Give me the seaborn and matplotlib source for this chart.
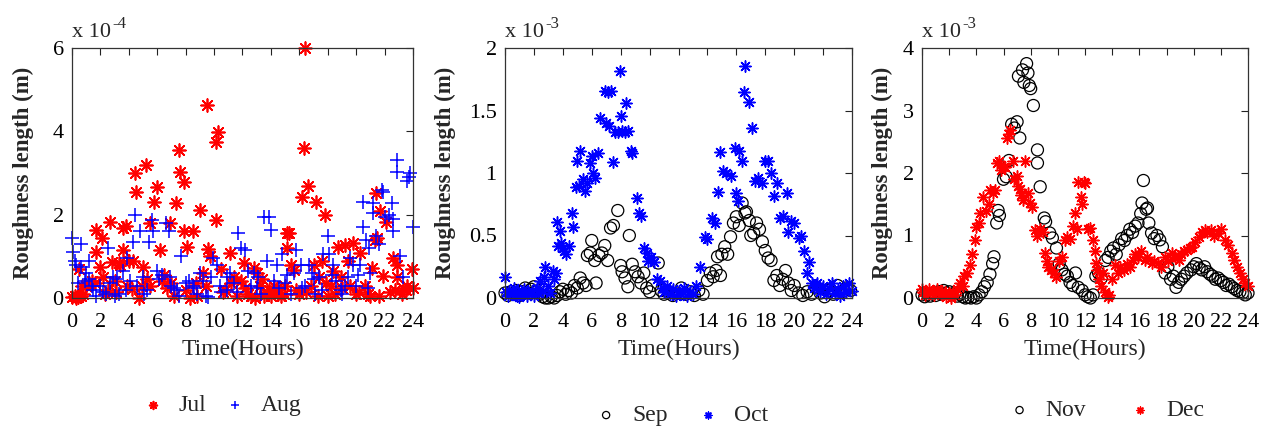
import numpy as np
import pandas as pd
import matplotlib
matplotlib.use("Agg")
import matplotlib.pyplot as plt
from matplotlib.ticker import FuncFormatter
import seaborn as sns

# ---------------------------------------------------------------------------
# Roughness length samples over the day (values in units of the axis scale)
# ---------------------------------------------------------------------------

# July / August, scale 1e-4 m
jul_hours = [0.0, 0.2, 0.4, 0.5, 0.6, 0.8, 1.0, 1.2, 1.4, 1.7, 1.7, 2.0, 2.1, 2.3, 2.5, 2.7, 2.8, 3.0,
             3.3, 3.4, 3.6, 3.6, 3.8, 4.0, 4.2, 4.3, 4.4, 4.5, 4.9, 5.0, 5.2, 5.5, 5.5, 5.8, 6.0, 6.2,
             6.3, 6.7, 6.9, 7.0, 7.3, 7.5, 7.6, 7.9, 7.9, 8.1, 8.3, 8.5, 8.7, 9.0, 9.2, 9.5, 9.6, 9.7,
             10.1, 10.1, 10.3, 10.5, 10.8, 11.1, 11.4, 11.6, 11.9, 12.1, 12.4, 12.6, 12.8, 13.0, 13.2,
             13.5, 13.7, 13.9, 14.2, 14.5, 14.7, 15.0, 15.1, 15.1, 15.3, 15.4, 15.6, 15.8, 16.0, 16.2,
             16.3, 16.4, 16.6, 16.8, 17.0, 17.2, 17.4, 17.6, 17.8, 18.0, 18.2, 18.4, 18.7, 18.9, 19.2,
             19.4, 19.6, 19.8, 20.0, 20.3, 20.6, 21.0, 21.1, 21.3, 21.4, 21.5, 21.7, 21.9, 22.1, 22.4,
             22.6, 22.9, 22.9, 23.2, 23.5, 23.6, 23.9, 24.0,
             0.3, 0.7, 1.6, 2.2, 3.1, 3.9, 4.7, 5.3, 6.5, 7.2, 8.0, 8.8, 9.4, 10.6, 11.2, 12.2, 12.9,
             13.4, 14.0, 14.4, 14.9, 16.5, 17.3, 17.9, 18.5, 19.0, 20.2, 20.8, 21.6, 22.7, 23.3]
jul_z0 = [0.03, 0.05, 0.02, 0.70, 0.05, 0.10, 0.30, 0.35, 0.40, 1.63, 1.10, 0.75, 1.44, 0.10, 0.20, 1.83,
          0.87, 0.40, 0.85, 0.80, 1.69, 1.15, 1.72, 0.90, 0.22, 0.90, 3.00, 2.55, 0.30, 0.75, 3.19, 0.30,
          1.80, 2.31, 2.67, 1.15, 0.40, 0.25, 1.80, 0.35, 2.27, 3.55, 3.03, 2.78, 1.60, 1.23, 0.00, 1.60,
          0.35, 2.11, 0.60, 4.63, 1.17, 1.00, 1.87, 3.75, 3.98, 0.70, 0.20, 1.07, 0.50, 0.05, 0.40, 0.85,
          0.10, 0.05, 0.72, 0.60, 0.30, 0.05, 0.15, 0.20, 0.30, 0.10, 0.05, 0.30, 1.57, 1.20, 1.55, 0.80,
          0.68, 0.20, 0.10, 2.43, 3.60, 6.00, 2.70, 0.30, 0.80, 2.31, 0.50, 0.90, 1.99, 0.05, 0.30, 0.65,
          1.23, 0.50, 1.27, 0.90, 0.30, 1.31, 0.10, 1.07, 0.30, 0.05, 0.72, 1.39, 2.51, 1.45, 2.10, 0.52,
          1.83, 0.15, 0.95, 0.80, 0.50, 0.10, 0.20, 0.30, 0.70, 0.25,
          0.00, 0.30, 0.35, 0.50, 0.15, 0.30, 0.00, 0.45, 0.55, 0.05, 0.20, 0.05, 0.30, 0.15, 0.35, 0.25,
          0.00, 0.45, 0.05, 0.25, 0.10, 0.15, 0.05, 0.35, 0.10, 0.25, 0.15, 0.10, 0.05, 0.20, 0.25]

aug_hours = [0.0, 0.1, 0.2, 0.3, 0.6, 0.6, 0.9, 1.2, 1.2, 1.4, 1.7, 2.0, 2.2, 2.5, 2.7, 2.9, 3.0, 3.3,
             3.6, 3.9, 4.1, 4.3, 4.4, 4.8, 5.0, 5.1, 5.4, 5.6, 5.7, 6.0, 6.3, 6.6, 6.8, 7.0, 7.2, 7.5,
             7.7, 8.2, 8.5, 8.8, 9.0, 9.4, 9.6, 9.9, 10.2, 10.5, 10.9, 10.9, 11.4, 11.7, 11.9, 12.2,
             12.4, 12.8, 13.1, 13.3, 13.5, 13.7, 13.9, 14.0, 14.4, 14.8, 15.1, 15.4, 15.8, 16.1, 16.4,
             16.7, 17.0, 17.1, 17.4, 17.7, 18.0, 18.1, 18.4, 18.6, 18.9, 19.2, 19.6, 19.8, 20.0, 20.3,
             20.5, 20.5, 20.7, 20.9, 21.2, 21.2, 21.4, 21.6, 21.8, 21.9, 22.0, 22.3, 22.5, 22.6, 22.6,
             22.9, 22.9, 23.1, 23.3, 23.6, 23.7, 23.8, 24.0,
             0.4, 1.0, 1.5, 2.4, 3.2, 3.8, 4.6, 5.3, 6.1, 6.9, 7.4, 8.0, 8.6, 9.2, 9.8, 10.4, 11.1,
             11.6, 12.6, 13.0, 14.2, 14.6, 15.0, 15.6, 16.2, 16.9, 17.6, 18.3, 19.0, 19.4, 20.1, 20.8,
             21.0]
aug_z0 = [1.43, 1.10, 0.90, 0.80, 1.30, 0.75, 0.40, 0.90, 0.45, 0.30, 0.05, 0.30, 0.15, 1.20, 0.35, 0.50,
          0.05, 0.10, 0.65, 0.95, 0.40, 1.35, 2.00, 1.60, 0.50, 0.10, 1.35, 1.87, 1.60, 0.65, 0.55, 1.80,
          1.60, 0.30, 0.25, 0.05, 1.00, 0.40, 0.30, 0.10, 0.60, 0.05, 0.02, 0.95, 0.80, 0.15, 0.50, 0.20,
          0.35, 1.55, 1.20, 1.15, 0.65, 0.60, 0.50, 0.10, 1.95, 0.90, 1.95, 1.63, 0.80, 1.05, 0.55, 0.10,
          1.15, 0.80, 0.30, 0.80, 0.45, 0.10, 0.50, 1.05, 1.50, 1.05, 0.80, 0.40, 0.20, 0.30, 0.95, 0.80,
          0.30, 0.80, 1.70, 2.30, 1.40, 1.20, 2.03, 2.27, 1.50, 1.30, 2.60, 2.55, 1.95, 2.00, 2.27, 1.90,
          1.60, 3.31, 3.03, 1.00, 0.50, 2.80, 2.90, 3.00, 1.70,
          0.35, 0.60, 0.20, 0.10, 0.45, 0.20, 0.30, 0.20, 0.45, 0.50, 0.20, 0.35, 0.25, 0.40, 0.50, 0.30,
          0.60, 0.15, 0.30, 0.25, 0.40, 0.25, 0.35, 0.60, 0.25, 0.60, 0.20, 0.55, 0.10, 0.50, 0.55, 0.25,
          0.60]

# September / October, scale 1e-3 m
sep_hours = [0.0, 0.2, 0.4, 0.6, 0.8, 1.0, 1.2, 1.4, 1.6, 1.8, 2.0, 2.2, 2.4, 2.6, 2.8, 3.0, 3.2, 3.4,
             3.6, 3.8, 4.0, 4.2, 4.4, 4.6, 4.8, 5.0, 5.2, 5.4, 5.6, 5.7, 5.9, 6.0, 6.2, 6.3, 6.5, 6.7,
             6.9, 7.1, 7.3, 7.5, 7.8, 8.0, 8.1, 8.3, 8.5, 8.6, 8.8, 9.0, 9.2, 9.4, 9.6, 9.8, 10.0, 10.2,
             10.6, 10.8, 11.0, 11.3, 11.6, 11.9, 12.2, 12.5, 12.8, 13.1, 13.4, 13.7, 14.0, 14.2, 14.4,
             14.6, 14.7, 14.9, 15.0, 15.2, 15.4, 15.6, 15.8, 16.0, 16.2, 16.4, 16.6, 16.7, 16.9, 17.0,
             17.2, 17.4, 17.6, 17.8, 18.0, 18.2, 18.4, 18.6, 18.8, 19.0, 19.2, 19.4, 19.6, 19.8, 20.0,
             20.3, 20.6, 20.9, 21.2, 21.5, 21.8, 22.1, 22.4, 22.7, 23.0, 23.3, 23.6, 23.9]
sep_z0 = [0.04, 0.02, 0.05, 0.03, 0.06, 0.02, 0.05, 0.08, 0.04, 0.07, 0.09, 0.05, 0.03, 0.01, 0.00, 0.00,
          0.01, 0.00, 0.02, 0.05, 0.07, 0.03, 0.06, 0.04, 0.10, 0.08, 0.16, 0.12, 0.10, 0.34, 0.36, 0.46,
          0.30, 0.12, 0.34, 0.36, 0.42, 0.30, 0.56, 0.58, 0.70, 0.26, 0.21, 0.16, 0.09, 0.50, 0.27, 0.21,
          0.17, 0.12, 0.20, 0.08, 0.05, 0.10, 0.28, 0.06, 0.03, 0.05, 0.02, 0.04, 0.08, 0.03, 0.05, 0.02,
          0.06, 0.03, 0.14, 0.20, 0.17, 0.22, 0.33, 0.18, 0.35, 0.41, 0.35, 0.49, 0.60, 0.65, 0.58, 0.76,
          0.68, 0.69, 0.62, 0.50, 0.52, 0.60, 0.55, 0.45, 0.38, 0.32, 0.30, 0.14, 0.18, 0.10, 0.15, 0.22,
          0.12, 0.06, 0.10, 0.04, 0.02, 0.05, 0.03, 0.08, 0.04, 0.01, 0.06, 0.03, 0.10, 0.05, 0.08, 0.06]

oct_hours = [0.0, 0.1, 0.2, 0.3, 0.5, 0.6, 0.8, 0.9, 1.0, 1.2, 1.3, 1.5, 1.6, 1.8, 1.9, 2.0, 2.2, 2.3,
             2.4, 2.6, 2.7, 2.8, 3.0, 3.1, 3.3, 3.4, 3.5, 3.6, 3.7, 3.8, 3.9, 4.0, 4.1, 4.2, 4.4, 4.6,
             4.7, 4.9, 5.0, 5.1, 5.2, 5.4, 5.5, 5.7, 5.9, 6.0, 6.1, 6.2, 6.4, 6.6, 6.9, 7.0, 7.1, 7.2,
             7.3, 7.5, 7.6, 7.8, 7.95, 8.0, 8.1, 8.3, 8.4, 8.5, 8.7, 8.8, 9.1, 9.3, 9.4, 9.6, 9.8, 9.9,
             10.1, 10.3, 10.5, 10.7, 10.9, 11.0, 11.2, 11.4, 11.6, 11.8, 12.0, 12.2, 12.4, 12.6, 12.8,
             13.0, 13.2, 13.5, 13.8, 14.0, 14.3, 14.5, 14.7, 14.9, 15.1, 15.3, 15.6, 15.9, 16.0, 16.1,
             16.2, 16.4, 16.5, 16.6, 16.9, 17.1, 17.3, 17.5, 17.8, 18.0, 18.2, 18.4, 18.6, 18.8, 19.0,
             19.2, 19.5, 19.6, 19.8, 20.0, 20.3, 20.5, 20.7, 20.9, 21.0, 21.2, 21.4, 21.6, 21.8, 22.0,
             22.2, 22.4, 22.6, 22.8, 23.0, 23.2, 23.4, 23.6, 23.8, 24.0]
oct_z0 = [0.17, 0.05, 0.02, 0.06, 0.03, 0.08, 0.02, 0.05, 0.01, 0.04, 0.07, 0.02, 0.05, 0.03, 0.06, 0.02,
          0.08, 0.04, 0.14, 0.06, 0.17, 0.25, 0.10, 0.04, 0.22, 0.15, 0.20, 0.61, 0.42, 0.54, 0.44, 0.40,
          0.38, 0.35, 0.42, 0.68, 0.57, 0.89, 1.10, 0.90, 1.18, 0.95, 0.86, 0.92, 1.08, 1.14, 1.00, 0.96,
          1.16, 1.44, 1.66, 1.40, 1.65, 1.38, 1.66, 1.09, 1.33, 1.33, 1.82, 1.46, 1.34, 1.33, 1.56, 1.34,
          1.18, 1.16, 0.80, 0.68, 0.66, 0.40, 0.36, 0.30, 0.33, 0.29, 0.15, 0.14, 0.08, 0.05, 0.10, 0.03,
          0.07, 0.02, 0.06, 0.03, 0.08, 0.02, 0.05, 0.03, 0.10, 0.25, 0.49, 0.47, 0.64, 0.60, 0.85, 1.17,
          1.02, 1.00, 0.98, 1.20, 0.84, 0.78, 1.18, 1.10, 1.65, 1.86, 1.57, 1.36, 0.94, 0.96, 0.92, 1.10,
          1.10, 1.00, 0.82, 0.92, 0.64, 0.66, 0.84, 0.53, 0.62, 0.60, 0.48, 0.50, 0.38, 0.20, 0.29, 0.12,
          0.08, 0.12, 0.05, 0.10, 0.03, 0.08, 0.12, 0.04, 0.07, 0.02, 0.10, 0.05, 0.12, 0.06]

# November / December, scale 1e-3 m
nov_hours = [0.0, 0.2, 0.4, 0.6, 0.8, 1.0, 1.2, 1.4, 1.6, 1.8, 2.0, 2.2, 2.4, 2.6, 2.8, 3.0, 3.2, 3.4,
             3.6, 3.8, 4.0, 4.2, 4.4, 4.6, 4.8, 5.0, 5.2, 5.3, 5.5, 5.6, 5.7, 6.0, 6.2, 6.4, 6.6, 6.8,
             7.0, 7.1, 7.2, 7.4, 7.5, 7.7, 7.8, 7.9, 8.0, 8.2, 8.5, 8.5, 8.7, 9.0, 9.1, 9.4, 9.6, 9.9,
             10.1, 10.3, 10.5, 10.7, 10.9, 11.1, 11.3, 11.5, 11.8, 12.0, 12.2, 12.4, 12.6, 12.8, 13.0,
             13.2, 13.5, 13.7, 13.9, 14.1, 14.3, 14.5, 14.7, 14.9, 15.1, 15.3, 15.5, 15.7, 15.9, 16.1,
             16.2, 16.3, 16.5, 16.6, 16.7, 16.9, 17.1, 17.3, 17.5, 17.7, 17.9, 18.1, 18.3, 18.5, 18.7,
             18.9, 19.1, 19.3, 19.5, 19.8, 20.0, 20.2, 20.4, 20.6, 20.8, 21.0, 21.2, 21.4, 21.6, 21.8,
             22.0, 22.2, 22.4, 22.6, 22.8, 23.0, 23.2, 23.4, 23.6, 23.8, 24.0]
nov_z0 = [0.05, 0.02, 0.06, 0.03, 0.08, 0.04, 0.10, 0.06, 0.12, 0.08, 0.10, 0.05, 0.08, 0.03, 0.06, 0.02,
          0.00, 0.01, 0.00, 0.02, 0.00, 0.05, 0.10, 0.18, 0.25, 0.38, 0.55, 0.66, 1.20, 1.40, 1.32, 1.90,
          1.94, 2.20, 2.78, 2.72, 2.82, 3.55, 2.56, 3.65, 3.45, 3.75, 3.60, 3.40, 3.35, 3.08, 2.37, 2.16,
          1.78, 1.28, 1.22, 1.04, 0.96, 0.80, 0.55, 0.45, 0.38, 0.35, 0.25, 0.20, 0.40, 0.17, 0.12, 0.05,
          0.02, 0.00, 0.05, 0.35, 0.40, 0.32, 0.60, 0.65, 0.75, 0.80, 0.70, 0.85, 0.95, 0.92, 1.00, 1.10,
          1.05, 1.15, 1.20, 1.35, 1.52, 1.88, 1.42, 1.44, 1.20, 1.04, 0.95, 1.00, 0.93, 0.82, 0.40, 0.50,
          0.30, 0.35, 0.17, 0.25, 0.30, 0.35, 0.40, 0.45, 0.50, 0.55, 0.48, 0.45, 0.50, 0.42, 0.38, 0.35,
          0.30, 0.32, 0.28, 0.25, 0.20, 0.22, 0.18, 0.15, 0.12, 0.10, 0.08, 0.05, 0.08]

dec_hours = [0.0, 0.1, 0.2, 0.3, 0.5, 0.6, 0.8, 0.9, 1.1, 1.2, 1.4, 1.5, 1.7, 1.8, 2.0, 2.1, 2.3, 2.4,
             2.6, 2.8, 3.0, 3.1, 3.3, 3.5, 3.7, 3.9, 4.0, 4.2, 4.3, 4.5, 4.7, 4.9, 5.0, 5.2, 5.4, 5.5,
             5.7, 5.8, 6.0, 6.1, 6.25, 6.4, 6.5, 6.7, 6.8, 7.0, 7.1, 7.2, 7.3, 7.45, 7.6, 7.8, 7.95,
             8.1, 8.3, 8.5, 8.7, 8.9, 9.05, 9.2, 9.3, 9.5, 9.7, 9.9, 10.1, 10.3, 10.5, 10.7, 10.9, 11.1,
             11.3, 11.4, 11.5, 11.7, 11.8, 11.9, 12.0, 12.2, 12.4, 12.6, 12.7, 12.8, 12.9, 13.0, 13.2,
             13.3, 13.5, 13.7, 13.8, 14.0, 14.2, 14.4, 14.6, 14.9, 15.1, 15.3, 15.5, 15.7, 15.9, 16.1,
             16.4, 16.6, 16.9, 17.1, 17.4, 17.6, 17.9, 18.1, 18.4, 18.6, 18.9, 19.1, 19.3, 19.5, 19.7,
             19.9, 20.1, 20.4, 20.6, 20.8, 21.0, 21.3, 21.5, 21.8, 22.0, 22.3, 22.5, 22.8, 23.0, 23.2,
             23.4, 23.6, 23.8, 24.0]
dec_z0 = [0.15, 0.10, 0.05, 0.12, 0.15, 0.08, 0.12, 0.05, 0.14, 0.10, 0.06, 0.12, 0.10, 0.02, 0.08, 0.00,
          0.10, 0.05, 0.15, 0.24, 0.20, 0.35, 0.40, 0.53, 0.70, 0.93, 1.14, 1.20, 1.36, 1.62, 1.40, 1.50,
          1.73, 1.68, 1.73, 2.16, 2.20, 2.05, 2.10, 2.10, 2.56, 2.62, 2.69, 2.20, 1.90, 1.95, 1.80, 1.75,
          1.65, 1.57, 2.20, 1.68, 1.52, 1.45, 1.09, 1.00, 1.10, 1.05, 0.72, 0.60, 0.50, 0.45, 0.40, 0.34,
          0.60, 0.66, 0.93, 0.98, 0.95, 1.15, 1.36, 1.10, 1.85, 1.62, 1.50, 1.85, 1.84, 1.10, 1.12, 0.93,
          0.75, 0.56, 0.45, 0.30, 0.20, 0.40, 0.10, 0.02, 0.05, 0.30, 0.53, 0.40, 0.50, 0.45, 0.55, 0.50,
          0.61, 0.70, 0.66, 0.75, 0.61, 0.65, 0.56, 0.60, 0.56, 0.50, 0.66, 0.60, 0.72, 0.65, 0.61, 0.70,
          0.75, 0.77, 0.80, 0.82, 0.90, 0.98, 1.05, 1.09, 1.05, 1.09, 1.00, 1.04, 1.10, 0.93, 0.85, 0.72,
          0.61, 0.50, 0.40, 0.30, 0.24, 0.20]

hour_ticks = list(range(0, 25, 2))

sns.set_theme(style="white")
plt.rcParams["font.family"] = ["Liberation Serif", "DejaVu Serif"]

ASTERISK = (8, 2, 0)

fig = plt.figure(figsize=(12.68, 4.32), dpi=100)
W, H = 1268.0, 432.0


def make_axes(left_px, right_px, top_px=48, bottom_px=298):
    return fig.add_axes([left_px / W, 1 - bottom_px / H,
                         (right_px - left_px) / W, (bottom_px - top_px) / H])


ax1 = make_axes(72, 413)
ax2 = make_axes(505, 852)
ax3 = make_axes(922, 1248)

# Panel 1: July and August
sns.scatterplot(x=jul_hours, y=jul_z0, ax=ax1, marker=ASTERISK, color="red",
                s=85, linewidth=1.25, clip_on=False, label="Jul")
sns.scatterplot(x=aug_hours, y=aug_z0, ax=ax1, marker="+", color="blue",
                s=110, linewidth=1.1, clip_on=False, label="Aug")

# Panel 2: September and October
sns.scatterplot(x=sep_hours, y=sep_z0, ax=ax2, marker="o", facecolor="none",
                edgecolor="black", s=75, linewidth=0.9, clip_on=False, label="Sep")
sns.scatterplot(x=oct_hours, y=oct_z0, ax=ax2, marker=ASTERISK, color="blue",
                s=65, linewidth=1.1, clip_on=False, label="Oct")

# Panel 3: November and December
sns.scatterplot(x=nov_hours, y=nov_z0, ax=ax3, marker="o", facecolor="none",
                edgecolor="black", s=75, linewidth=0.9, clip_on=False, label="Nov")
sns.scatterplot(x=dec_hours, y=dec_z0, ax=ax3, marker=ASTERISK, color="red",
                s=65, linewidth=1.1, clip_on=False, label="Dec")

# axis, y limit, y ticks, scale exponent, y-label x position, legend anchor, column gap
panels = [
    (ax1, 6, [0, 2, 4, 6], "-4", -0.112, (0.434, -0.43), 0.6),
    (ax2, 2, [0, 0.5, 1, 1.5, 2], "-3", -0.140, (0.504, -0.47), 1.1),
    (ax3, 4, [0, 1, 2, 3, 4], "-3", -0.090, (0.561, -0.45), 1.7),
]

for ax, ymax, yticks, exponent, ylab_x, leg_anchor, col_gap in panels:
    ax.set_xlim(0, 24)
    ax.set_ylim(0, ymax)
    ax.set_xticks(hour_ticks)
    ax.set_yticks(yticks)
    ax.yaxis.set_major_formatter(FuncFormatter(lambda v, p: f"{v:g}"))
    ax.tick_params(direction="in", top=True, right=True, length=5, width=0.8,
                   labelsize=16, colors="#222222", labelcolor="black")
    ax.tick_params(axis="x", pad=11)
    ax.tick_params(axis="y", pad=6)
    for sp in ax.spines.values():
        sp.set_color("#333333")
        sp.set_linewidth(0.9)
    ax.set_xlabel("Time(Hours)", fontsize=17, labelpad=5)
    ax.set_ylabel("Roughness length (m)", fontsize=16.5, fontweight="bold")
    ax.yaxis.set_label_coords(ylab_x, 0.5)

    # scale factor written above the y axis, as "x 10" with a raised exponent
    base = ax.text(0.0, 1.045, "x 10", transform=ax.transAxes,
                   ha="left", va="baseline", fontsize=16)
    ax.annotate(exponent, xy=(1.0, 1.0), xycoords=base, xytext=(1, -1),
                textcoords="offset points", ha="left", va="center", fontsize=12)

    ax.legend(loc="center", bbox_to_anchor=leg_anchor, ncol=2, frameon=False,
              fontsize=17, markerscale=0.6, handletextpad=0.5, columnspacing=col_gap,
              handlelength=1.2, scatterpoints=1)

fig.savefig("out.png", dpi=100)
